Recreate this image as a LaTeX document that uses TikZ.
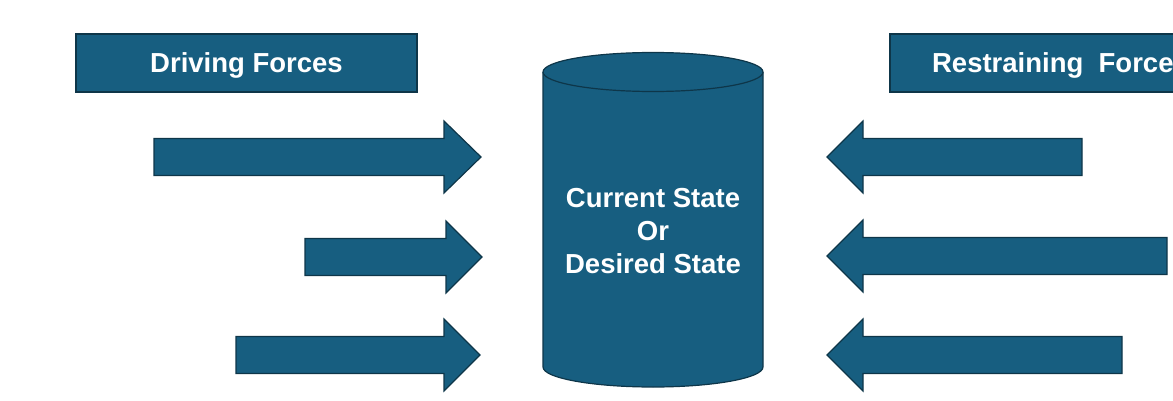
\documentclass[tikz,border=0pt]{standalone}
\usepackage{fontspec}
\setmainfont{Liberation Sans}
\definecolor{forcefill}{HTML}{175E80}
\definecolor{forceedge}{HTML}{0E3649}
\tikzset{
  forceshape/.style={fill=forcefill, draw=forceedge, line width=1.2pt, line join=miter},
  titlebox/.style={forceshape, minimum width=341pt, minimum height=58pt, inner sep=0pt,
    text height=20pt, text depth=0.3pt,
    text=white, font=\bfseries\fontsize{27.5}{33}\selectfont},
  statetext/.style={text=white, align=center, font=\bfseries\fontsize{27.5}{33}\selectfont}
}
% block arrow: tail x, head base x, tip x, centre y
\newcommand{\blockarrow}[4]{%
  \draw[forceshape] (#1,#4-18.5) -- (#2,#4-18.5) -- (#2,#4-36) -- (#3,#4)
    -- (#2,#4+36) -- (#2,#4+18.5) -- (#1,#4+18.5) -- cycle;}
\begin{document}
\begin{tikzpicture}[x=1pt,y=1pt]
  \useasboundingbox (0,0) rectangle (1173,400);
  \clip (0,0) rectangle (1173,400);

  % headings
  \node[titlebox] (driving) at (246.5,337) {Driving Forces};
  \node[titlebox] (restraining) at (1060.5,337) {Restraining\ \ Forces};

  % state cylinder
  \fill[forcefill] (543,328) -- (543,33) arc[start angle=180, end angle=360, x radius=110, y radius=20]
    -- (763,328) -- cycle;
  \draw[forceedge, line width=1.2pt] (543,328) -- (543,33)
    arc[start angle=180, end angle=360, x radius=110, y radius=20] -- (763,328);
  \draw[forceshape] (653,328) ellipse[x radius=110, y radius=19.5];
  \node[statetext] (state) at (653,169) {Current State\\Or\\Desired State};

  % driving forces
  \blockarrow{154}{444}{481}{243}
  \blockarrow{305}{446}{482}{143}
  \blockarrow{236}{444}{480}{45}

  % restraining forces
  \blockarrow{1082}{863}{827}{243}
  \blockarrow{1167}{863}{827}{144}
  \blockarrow{1122}{863}{827}{45}
\end{tikzpicture}
\end{document}
